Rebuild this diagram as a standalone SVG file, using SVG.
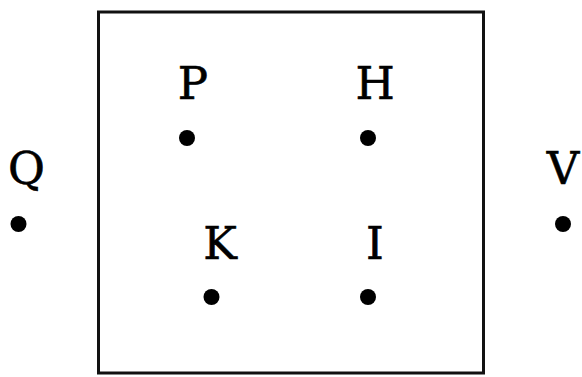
<svg xmlns="http://www.w3.org/2000/svg" width="582" height="377" viewBox="0 0 582 377">
<style>
.lbl{font-family:"DejaVu Serif","Liberation Serif",serif;font-size:45px;fill:#000;stroke:#000;stroke-width:0.6;text-anchor:middle}
.pt{fill:#000}
</style>
<rect x="0" y="0" width="582" height="377" fill="#fff"/>
<rect id="box" x="98.5" y="12" width="385" height="361" fill="none" stroke="#111" stroke-width="3"/>
<g id="P"><text class="lbl" x="193" y="99">P</text><circle class="pt" cx="187" cy="138" r="8"/></g>
<g id="H"><text class="lbl" x="375" y="99">H</text><circle class="pt" cx="368" cy="138" r="8"/></g>
<g id="Q"><text class="lbl" x="26.5" y="184">Q</text><circle class="pt" cx="18.5" cy="224" r="8"/></g>
<g id="V"><text class="lbl" x="563" y="184">V</text><circle class="pt" cx="563" cy="224" r="8"/></g>
<g id="K"><text class="lbl" x="220" y="259">K</text><circle class="pt" cx="211.5" cy="297" r="8"/></g>
<g id="I"><text class="lbl" x="375" y="259">I</text><circle class="pt" cx="368" cy="297" r="8"/></g>
<g id="connectors"/>
</svg>
